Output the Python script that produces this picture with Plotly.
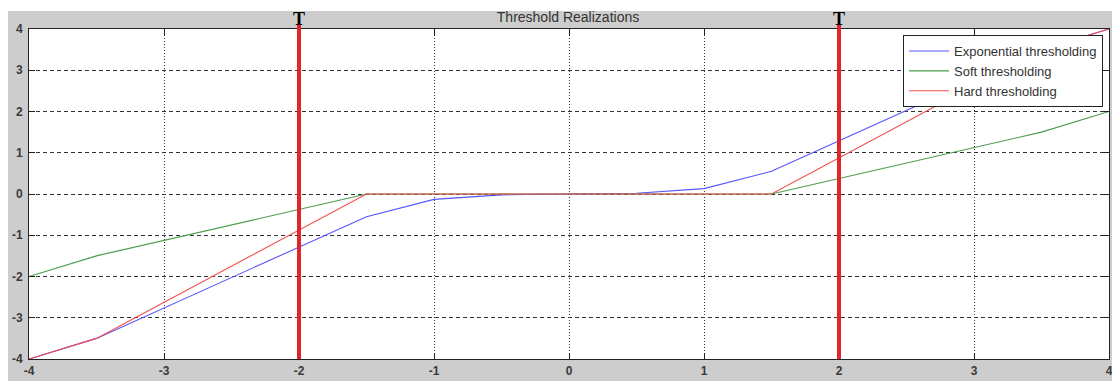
import plotly.graph_objects as go

# ---- data ----
x_vals = [-4, -3.5, -1.5, -1, -0.5, 0, 0.5, 1, 1.5, 3.5, 4]
exp_vals = [-4, -3.5, -0.55, -0.13, -0.02, 0, 0.02, 0.13, 0.55, 3.5, 4]
soft_vals = [-2, -1.5, 0, 0, 0, 0, 0, 0, 0, 1.5, 2]
hard_vals = [-4, -3.5, 0, 0, 0, 0, 0, 0, 0, 3.5, 4]
series_names = ["Exponential thresholding", "Soft thresholding", "Hard thresholding"]
thresholds = [-2, 2]
threshold_label = "T"
tick_vals = [-4, -3, -2, -1, 0, 1, 2, 3, 4]
tick_text = ["-4", "-3", "-2", "-1", "0", "1", "2", "3", "4"]
title_text = "Threshold Realizations"

colors = ["#5555ff", "#4a9c4a", "#f24e4e"]

# page body has an 8px margin, so figure coordinates = screenshot - 8
OFF = 8
W, H = 1120 - OFF, 381 - OFF
L, R, T, B = 21, 11, 21, 22
pw, ph = W - L - R, H - T - B

def px2paper_x(p):  # p in screenshot pixels
    return (p - OFF - L) / pw

def px2paper_y(p):
    return (H - B - (p - OFF)) / ph

fig = go.Figure()
for name, ys, c in zip(series_names, [exp_vals, soft_vals, hard_vals], colors):
    fig.add_trace(go.Scatter(x=x_vals, y=ys, mode="lines", name=name,
                             line=dict(color=c, width=1.1)))

shapes = []
# thin white strip at the very top (screenshot y 8..11)
shapes.append(dict(type="rect", xref="paper", yref="paper",
                   x0=px2paper_x(0), x1=px2paper_x(1130),
                   y0=px2paper_y(11), y1=px2paper_y(0),
                   fillcolor="white", line=dict(width=0), layer="below"))
annotations = []
for t in thresholds:
    shapes.append(dict(type="line", xref="x", yref="paper", x0=t, x1=t,
                       y0=0, y1=px2paper_y(25),
                       line=dict(color="#e0262a", width=4), layer="above"))
    annotations.append(dict(x=t, xref="x", y=px2paper_y(19), yref="paper",
                            text="<b>%s</b>" % threshold_label, showarrow=False,
                            yanchor="middle", xanchor="center",
                            font=dict(family="Liberation Serif", size=18, color="black")))

axis_common = dict(
    range=[-4, 4], tickvals=tick_vals, ticktext=tick_text, showline=True, linecolor="#222",
    linewidth=1, mirror="ticks", ticks="inside", ticklen=6, tickcolor="#222",
    showgrid=True, gridcolor="#333", gridwidth=1, zeroline=False, automargin=False,
    tickfont=dict(family="Liberation Sans", size=12, color="#3a3a3a", weight="bold"),
)

fig.update_layout(
    width=W, height=H,
    margin=dict(l=L, r=R, t=T, b=B, pad=0, autoexpand=False),
    paper_bgcolor="#cdcdcd", plot_bgcolor="white",
    title=dict(text=title_text, x=px2paper_x(568), xref="paper", xanchor="center",
               y=1 - (17 - OFF) / H, yanchor="middle", automargin=False,
               font=dict(family="Liberation Sans", size=14, color="#333")),
    xaxis=dict(**axis_common, griddash="1px,2px", ticklabelstandoff=1),
    yaxis=dict(**axis_common, griddash="4px,3px", ticklabelstandoff=3),
    legend=dict(x=px2paper_x(1103), xanchor="right", y=px2paper_y(35), yanchor="top",
                bgcolor="white", bordercolor="#222", borderwidth=1,
                font=dict(family="Liberation Sans", size=13, color="#333"),
                tracegroupgap=0, itemwidth=40),
    shapes=shapes, annotations=annotations, showlegend=True,
)

fig.write_html("out.html")
